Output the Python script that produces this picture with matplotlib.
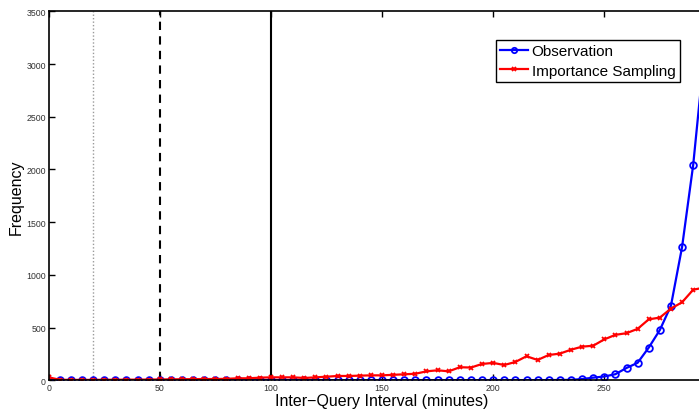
import matplotlib
matplotlib.use("Agg")
import matplotlib.pyplot as plt
import numpy as np

plt.rcParams['font.family'] = ['Liberation Sans', 'DejaVu Sans']

interval = list(range(0, 300, 5))  # minutes, 0..295

observation = [4, 1, 1, 1, 1, 1, 1, 1, 1, 1,
               1, 1, 1, 1, 1, 1, 1, 1, 1, 1,
               1, 1, 1, 1, 1, 1, 1, 1, 1, 1,
               1, 1, 1, 1, 1, 1, 1, 1, 1, 1,
               1, 1, 1, 1, 1, 2, 3, 4, 12, 25,
               36, 58, 117, 166, 310, 477, 708, 1264, 2042, 3100]

importance = [28, 5, 4, 4, 4, 5, 5, 6, 6, 7,
              8, 9, 10, 11, 12, 12, 14, 19, 19, 25,
              28, 28, 28, 22, 28, 34, 41, 41, 44, 47,
              47, 52, 57, 62, 85, 95, 85, 124, 121, 155,
              165, 145, 174, 228, 193, 240, 253, 290, 319, 328,
              388, 431, 447, 488, 578, 595, 680, 740, 859, 880]

ref_lines = [20, 50, 100]
x_ticks = [0, 50, 100, 150, 200, 250]
y_ticks = [0, 500, 1000, 1500, 2000, 2500, 3000, 3500]

fig = plt.figure(figsize=(6.99, 4.10), dpi=100)
ax = fig.add_axes([48.7 / 699, 28.7 / 410, (715.4 - 48.7) / 699, 369 / 410])

ax.axvline(ref_lines[0], color='#9a9a9a', linestyle=(0, (1, 1.5)), linewidth=1.0)
ax.axvline(ref_lines[1], color='black', linestyle=(0, (4, 3)), linewidth=1.5)
ax.axvline(ref_lines[2], color='black', linestyle='-', linewidth=1.5)

ax.plot(interval, observation, color='#0000ff', marker='o', markersize=4.8,
        markerfacecolor='none', markeredgewidth=1.3, linewidth=1.6,
        label='Observation')
ax.plot(interval, importance, color='#ff0000', marker='x', markersize=3.5,
        markeredgewidth=1.3, linewidth=1.6, label='Importance Sampling')

ax.set_xlim(0, 300)
ax.set_ylim(0, 3500)
ax.set_xticks(x_ticks)
ax.set_yticks(y_ticks)
ax.tick_params(direction='in', labelsize=6.3, length=4.5, width=1.0,
               top=True, right=True, labelcolor='#333333', pad=2)
for s in ax.spines.values():
    s.set_linewidth(1.2)

ax.set_xlabel('Inter\u2212Query Interval (minutes)', fontsize=11.5, labelpad=1)
ax.set_ylabel('Frequency', fontsize=11.5, labelpad=1.5)

leg = ax.legend(loc='upper right', bbox_to_anchor=(680 / 699, 1 - 40.7 / 410),
                bbox_transform=fig.transFigure, fontsize=11, frameon=True,
                fancybox=False, edgecolor='black', framealpha=1,
                handlelength=1.8, handletextpad=0.25, borderpad=0.3,
                labelspacing=0.35, borderaxespad=0, markerscale=0.8)
leg.get_frame().set_linewidth(1.0)

fig.savefig('out.png', dpi=100)
